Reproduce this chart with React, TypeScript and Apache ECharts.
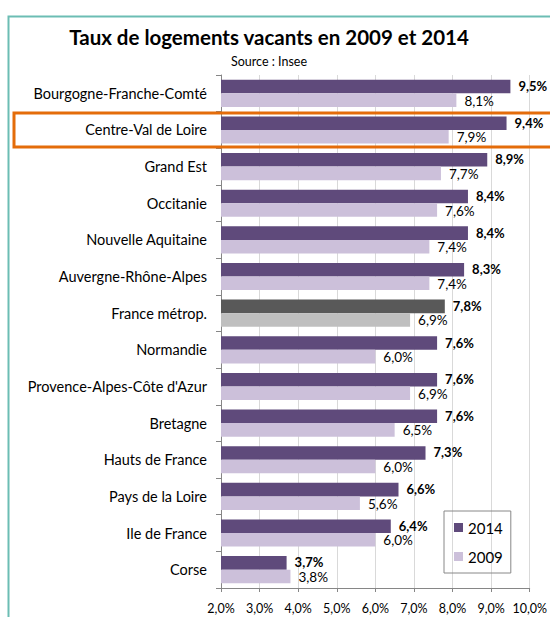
import React, { useEffect, useRef } from "react";
import * as echarts from "echarts";

const categories = [
  "Bourgogne-Franche-Comté",
  "Centre-Val de Loire",
  "Grand Est",
  "Occitanie",
  "Nouvelle Aquitaine",
  "Auvergne-Rhône-Alpes",
  "France métrop.",
  "Normandie",
  "Provence-Alpes-Côte d'Azur",
  "Bretagne",
  "Hauts de France",
  "Pays de la Loire",
  "Ile de France",
  "Corse",
];
const values2014 = [9.5, 9.4, 8.9, 8.4, 8.4, 8.3, 7.8, 7.6, 7.6, 7.6, 7.3, 6.6, 6.4, 3.7];
const values2009 = [8.1, 7.9, 7.7, 7.6, 7.4, 7.4, 6.9, 6.0, 6.9, 6.5, 6.0, 5.6, 6.0, 3.8];
const highlightCategory = "France métrop.";

const FONT = "Lato";
const fmt = (v: number) => v.toFixed(1).replace(".", ",") + "%";

export default function App() {
  const ref = useRef<HTMLDivElement>(null);
  useEffect(() => {
    if (!ref.current) return;
    const chart = echarts.init(ref.current, undefined, { renderer: "svg" });
    const d2014 = values2014.map((v, i) =>
      categories[i] === highlightCategory ? { value: v, itemStyle: { color: "#595959" } } : v
    );
    const d2009 = values2009.map((v, i) =>
      categories[i] === highlightCategory ? { value: v, itemStyle: { color: "#bfbfbf" } } : v
    );
    chart.setOption({
      animation: false,
      backgroundColor: "#ffffff",
      title: [
        {
          text: "Taux de logements vacants en 2009 et 2014",
          left: 264,
          textAlign: "center",
          top: 21,
          textStyle: { fontFamily: FONT, fontSize: 20.5, fontWeight: "bold", color: "#000" },
        },
        {
          text: "Source : Insee",
          left: 264,
          textAlign: "center",
          top: 50,
          textStyle: { fontFamily: FONT, fontSize: 12.5, fontWeight: "normal", color: "#000" },
        },
      ],
      legend: {
        orient: "vertical",
        left: 444,
        top: 511,
        width: 63,
        padding: [9, 8, 9, 10],
        itemGap: 14,
        itemWidth: 9,
        itemHeight: 9,
        borderColor: "#888888",
        borderWidth: 1,
        icon: "rect",
        data: ["2014", "2009"],
        textStyle: { fontFamily: FONT, fontSize: 15, color: "#000" },
      },
      grid: { left: 221, right: 18, top: 75, bottom: 29, containLabel: false },
      xAxis: {
        type: "value",
        min: 2,
        max: 10,
        interval: 1,
        axisLabel: {
          formatter: (v: number) => fmt(v),
          fontFamily: FONT,
          fontSize: 12.5,
          color: "#000",
          margin: 14,
        },
        axisLine: { show: true, lineStyle: { color: "#868686" } },
        axisTick: { show: true, length: 4, lineStyle: { color: "#868686" } },
        splitLine: { show: true, lineStyle: { color: "#d9d9d9" } },
      },
      yAxis: {
        type: "category",
        inverse: true,
        data: categories,
        axisLabel: { fontFamily: FONT, fontSize: 14.5, color: "#000", margin: 14 },
        axisLine: { show: true, lineStyle: { color: "#868686" } },
        axisTick: { show: true, length: 5, lineStyle: { color: "#868686" } },
      },
      series: [
        {
          name: "2014",
          type: "bar",
          data: d2014,
          barGap: "0%",
          barCategoryGap: "26%",
          itemStyle: { color: "#5f4a7b" },
          label: {
            show: true,
            position: "right",
            distance: 8,
            offset: [0, -0.5],
            formatter: (p: any) => fmt(p.value),
            fontFamily: FONT,
            fontSize: 13,
            lineHeight: 12,
            fontWeight: "bold",
            color: "#000",
          },
        },
        {
          name: "2009",
          type: "bar",
          data: d2009,
          barGap: "0%",
          barCategoryGap: "26%",
          itemStyle: { color: "#ccc0da" },
          label: {
            show: true,
            position: "right",
            distance: 8,
            offset: [0, 0.5],
            formatter: (p: any) => fmt(p.value),
            fontFamily: FONT,
            fontSize: 13.5,
            lineHeight: 12,
            color: "#000",
          },
        },
      ],
      graphic: [
        {
          type: "rect",
          silent: true,
          shape: { x: 8.5, y: 16.5, width: 700, height: 800 },
          style: { fill: "none", stroke: "#6cbdb4", lineWidth: 2 },
          z: 100,
        },
        {
          type: "rect",
          silent: true,
          shape: { x: 14, y: 113, width: 700, height: 34 },
          style: { fill: "none", stroke: "#e46c0a", lineWidth: 3 },
          z: 100,
        },
      ],
    });
    return () => chart.dispose();
  }, []);
  return (
    <div
      ref={ref}
      style={{ position: "fixed", left: 0, top: 0, width: 550, height: 617 }}
    />
  );
}
